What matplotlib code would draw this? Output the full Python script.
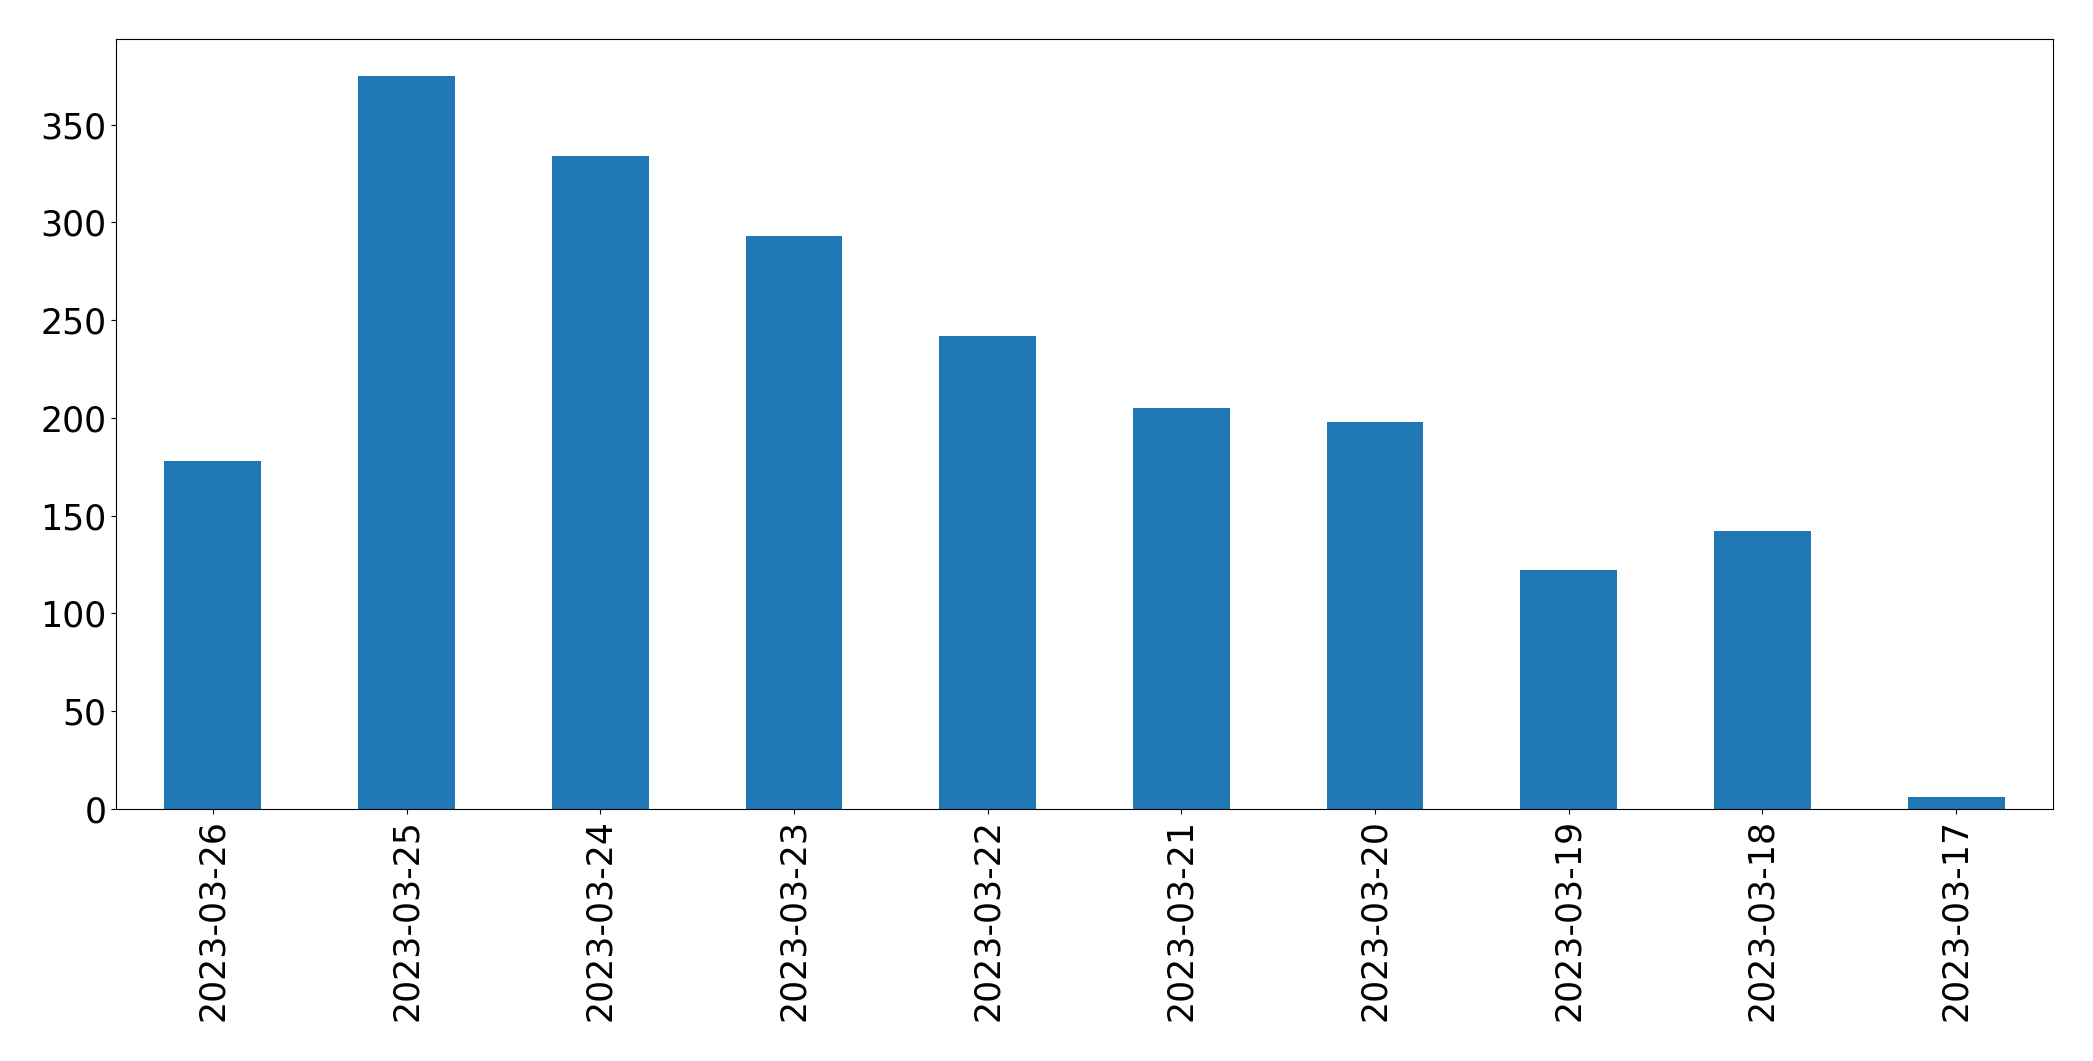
# daily counts - bar chart of items per day, newest first

# require
import matplotlib
matplotlib.use( 'Agg' )
import matplotlib.pyplot as plt
import pandas as pd

# data
DATES  = [ '2023-03-26', '2023-03-25', '2023-03-24', '2023-03-23', '2023-03-22',
           '2023-03-21', '2023-03-20', '2023-03-19', '2023-03-18', '2023-03-17' ]
COUNTS = [ 178, 375, 334, 293, 242, 205, 198, 122, 142, 6 ]

# configure
FONTSIZE = 25

# build a series, indexed by date
series = pd.Series( COUNTS, index=DATES )

# initialize the plot
figure = plt.figure( figsize=( 20.93, 10.61 ), dpi=100 )
axis   = figure.add_axes( [ 116 / 2093, 1 - 809 / 1061, ( 2053 - 116 ) / 2093, ( 809 - 39 ) / 1061 ] )

# plot
series.plot.bar( ax=axis, color='#1f77b4' )
axis.tick_params( axis='both', labelsize=FONTSIZE )
axis.tick_params( axis='x', labelrotation=90 )
for spine in axis.spines.values() : spine.set_color( 'black' )

# save
figure.savefig( 'out.png', dpi=100 )
